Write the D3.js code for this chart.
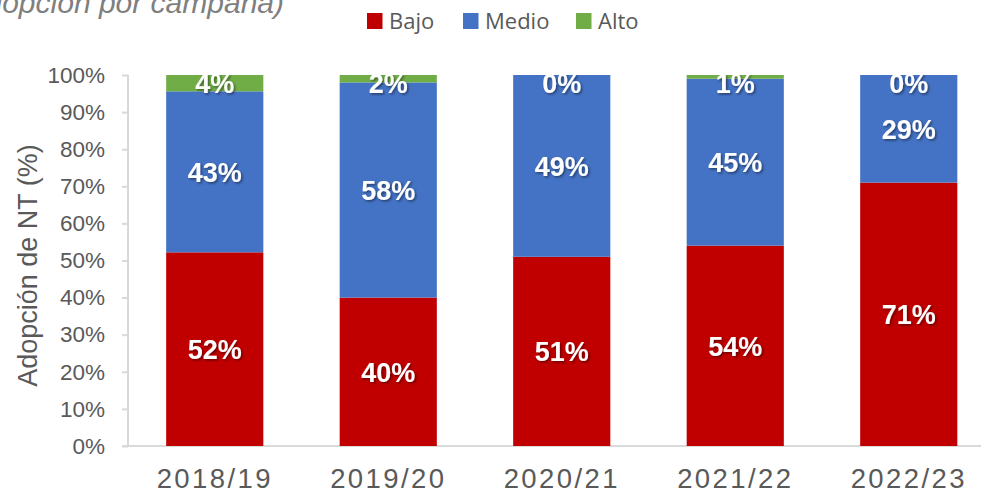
<!DOCTYPE html>
<html><head><meta charset="utf-8">
<script src="https://cdn.jsdelivr.net/npm/d3@7"></script>
<style>body{margin:0;background:#fff}svg{display:block}</style>
</head><body><svg id="c" width="981" height="493"></svg>
<script>
const categories = ["2018/19","2019/20","2020/21","2021/22","2022/23"];
const bajo  = [52.2, 40, 51, 54, 71];
const medio = [43.4, 58, 49, 45, 29];
const alto  = [4.4, 2, 0, 1, 0];
const seriesNames = ["Bajo","Medio","Alto"];
const seriesColors = ["#C00000","#4472C4","#70AD47"];
const yTicks = [0,10,20,30,40,50,60,70,80,90,100];

const svg = d3.select("#c");
const FONT = "Liberation Sans, Arial, sans-serif";
const x = d3.scaleBand().domain(categories).range([128, 995.5]).paddingInner(0.44).paddingOuter(0.22);
const y = d3.scaleLinear().domain([0,100]).range([446, 75]);

const rows = categories.map((c,i)=>({cat:c, Bajo:bajo[i], Medio:medio[i], Alto:alto[i]}));
const layers = d3.stack().keys(seriesNames)(rows);

// title fragment (cut at top, as in the reference)
svg.append("text").attr("x",284).attr("y",13).attr("text-anchor","end")
  .attr("font-family",FONT).attr("font-style","italic")
  .attr("font-size",30).attr("fill","#7f7f7f").text("(adopción por campaña)");

// axes
const gy = svg.append("g").attr("transform","translate(128,0)")
  .call(d3.axisLeft(y).tickValues(yTicks).tickFormat(d=>d+"%").tickSize(6).tickPadding(17));
gy.select(".domain").attr("stroke","#d9d9d9").attr("stroke-width",2).attr("d","M0,446V75");
gy.selectAll(".tick line").attr("stroke","#d9d9d9").attr("stroke-width",2);
gy.selectAll(".tick text").attr("font-family",FONT).attr("font-size",22.5).attr("fill","#595959");

const gx = svg.append("g").attr("transform","translate(0,446)")
  .call(d3.axisBottom(x).tickSize(0).tickPadding(0));
gx.select(".domain").attr("stroke","#d9d9d9").attr("stroke-width",2).attr("d","M122,0H981");
gx.selectAll(".tick text").attr("font-family",FONT).attr("font-size",27.5)
  .attr("fill","#595959").attr("letter-spacing","2.4px").attr("y",42).attr("dy",null);

// y title
svg.append("text").attr("transform","translate(36.5,265.5) rotate(-90)").attr("text-anchor","middle")
  .attr("font-family",FONT).attr("font-size",27).attr("fill","#595959")
  .text("Adopción de NT (%)");

// label shadow + plot clip
const defs = svg.append("defs");
const f = defs.append("filter").attr("id","sh").attr("x","-20%").attr("y","-20%").attr("width","140%").attr("height","140%");
f.append("feDropShadow").attr("dx",1.5).attr("dy",1.5).attr("stdDeviation",1).attr("flood-color","#000").attr("flood-opacity",0.45);
defs.append("clipPath").attr("id","plot").append("rect")
  .attr("x",120).attr("y",y(100)).attr("width",870).attr("height",y(0)-y(100)+40);

// bars
layers.forEach((layer,li)=>{
  svg.append("g").selectAll("rect").data(layer).join("rect")
    .attr("x",d=>x(d.data.cat)).attr("width",x.bandwidth())
    .attr("y",d=>y(d[1])).attr("height",d=>y(d[0])-y(d[1]))
    .attr("fill",seriesColors[li]);
});
// labels
const lblG = svg.append("g").attr("clip-path","url(#plot)");
layers.forEach((layer,li)=>{
  lblG.append("g").selectAll("text").data(layer).join("text")
    .attr("x",d=>x(d.data.cat)+x.bandwidth()/2)
    .attr("y",d=>Math.max((y(d[0])+y(d[1]))/2, y(100)+8.5)).attr("dy","0.36em")
    .attr("text-anchor","middle").attr("font-family",FONT)
    .attr("font-weight","bold").attr("font-size",27).attr("fill","#fff").attr("filter","url(#sh)")
    .text(d=>Math.round(d.data[layer.key])+"%");
});

// legend
const legX = [367, 463, 576];
const lg = svg.append("g");
seriesNames.forEach((n,i)=>{
  lg.append("rect").attr("x",legX[i]).attr("y",13).attr("width",15.5).attr("height",16).attr("fill",seriesColors[i]);
  lg.append("text").attr("x",legX[i]+22).attr("y",29)
    .attr("font-family","Open Sans, Noto Sans, sans-serif").attr("font-size",22).attr("fill","#595959").text(n);
});
</script></body></html>
